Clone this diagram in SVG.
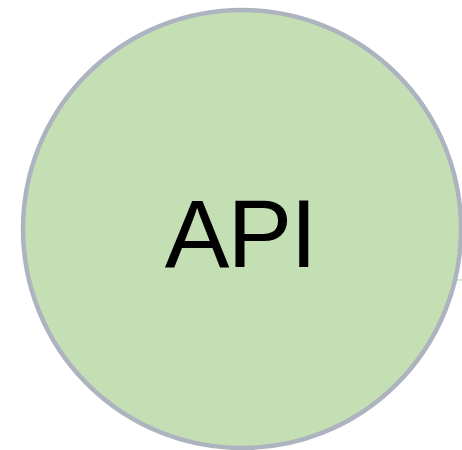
<svg xmlns="http://www.w3.org/2000/svg" width="462" height="450" viewBox="0 0 462 450">
<style>
.node circle{fill:#c5dfb5;stroke:#aeb3c0;stroke-width:4.5}
.node text{font-family:"Liberation Sans",Arial,sans-serif;font-size:97px;letter-spacing:-2px;fill:#000;text-anchor:middle}
.conn{stroke:#a9d6a0;stroke-width:1;fill:none}
</style>
<rect width="462" height="450" fill="#ffffff"/>
<g id="connectors">
<line class="conn" x1="456" y1="280" x2="462" y2="280"/>
</g>
<g id="api" class="node">
<circle cx="242" cy="229" r="219"/>
<text x="240" y="267">API</text>
</g>
</svg>
